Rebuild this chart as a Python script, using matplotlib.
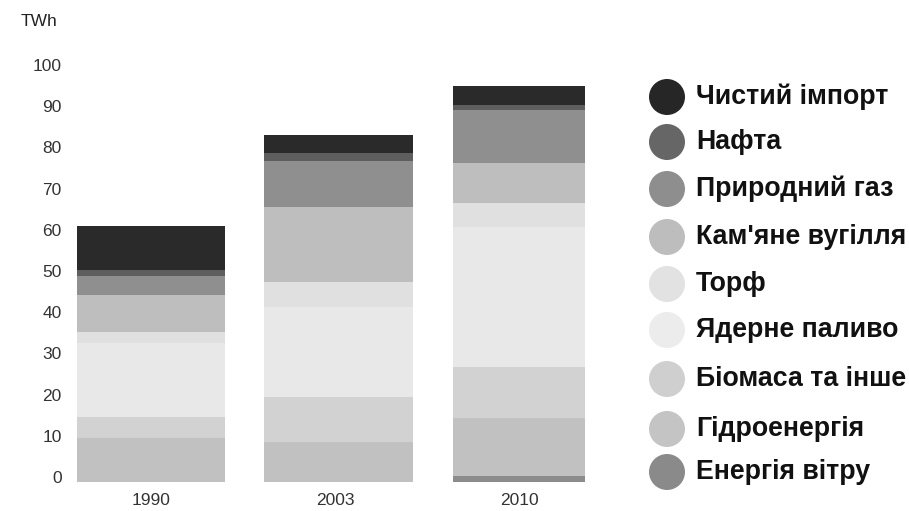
import matplotlib
matplotlib.use("Agg")
import matplotlib.pyplot as plt
import matplotlib.transforms as mtransforms
from matplotlib.patches import Ellipse
import numpy as np

years = ["1990", "2003", "2010"]

# sources, bottom of the stack first
sources = ["Енергія вітру", "Гідроенергія", "Біомаса та інше", "Ядерне паливо",
           "Торф", "Кам'яне вугілля", "Природний газ", "Нафта", "Чистий імпорт"]
wind = [0.0, 0.0, 1.5]
hydro = [10.7, 9.7, 14.0]
biomass = [5.1, 10.9, 12.4]
nuclear = [17.9, 21.9, 34.0]
peat = [2.7, 6.0, 5.8]
coal = [9.0, 18.2, 9.7]
gas = [4.6, 11.2, 12.9]
oil = [1.5, 2.0, 1.2]
net_import = [10.6, 4.3, 4.6]

series = [wind, hydro, biomass, nuclear, peat, coal, gas, oil, net_import]
colors = ["#8c8c8c", "#c1c1c1", "#d2d2d2", "#e8e8e8", "#e0e0e0",
          "#bebebe", "#8f8f8f", "#5e5e5e", "#2a2a2a"]
legend_colors = ["#8a8a8a", "#c4c4c4", "#cfcfcf", "#ececec", "#e2e2e2",
                 "#bdbdbd", "#8e8e8e", "#666666", "#262626"]

W, H = 909, 511
fig = plt.figure(figsize=(W / 100, H / 100), dpi=100)
plt.rcParams["font.family"] = ["Liberation Sans", "DejaVu Sans"]

# axes placed in pixel units: x=0 at px 151, 184 px per bar; y=0 at px 482, 4.12 px per TWh
ax_left, ax_right = 66, 610
ax_bottom, ax_top = 482, 62
ax = fig.add_axes([ax_left / W, 1 - ax_bottom / H,
                   (ax_right - ax_left) / W, (ax_bottom - ax_top) / H])
x = np.arange(len(years))
ax.set_xlim((ax_left - 151) / 184, (ax_right - 151) / 184)
ax.set_ylim(0, (ax_bottom - ax_top) / 4.12)

widths = [0.80, 0.81, 0.72]
bottom = np.zeros(len(years))
for vals, c in zip(series, colors):
    ax.bar(x + np.array([0, 0.02, 0]), vals, width=widths, bottom=bottom,
           color=c, linewidth=0)
    bottom += np.array(vals)

for s in ax.spines.values():
    s.set_visible(False)
ax.set_yticks(np.arange(0, 101, 10))
ax.set_xticks(x)
ax.set_xticklabels(years)
ax.tick_params(axis="both", length=0, colors="#333333", labelsize=12.5)
ax.tick_params(axis="y", pad=3)
ax.tick_params(axis="x", pad=8)
offset = mtransforms.ScaledTranslation(0, 5 / 100, fig.dpi_scale_trans)
for lab in ax.get_yticklabels():
    lab.set_transform(lab.get_transform() + offset)

fig.text(39 / W, 1 - 22 / H, "TWh", fontsize=12.5, color="#222222",
         ha="center", va="center")

# legend drawn by hand: circle + label, top entry is the top of the stack
rows_y = [97, 142, 189, 237, 284, 330, 379, 429, 472]
for i, (name, c) in enumerate(zip(sources[::-1], legend_colors[::-1])):
    y = rows_y[i]
    circ = Ellipse((667 / W, 1 - y / H), 36 / W, 36 / H, transform=fig.transFigure,
                   facecolor=c, edgecolor="none")
    fig.add_artist(circ)
    fig.text(696 / W, 1 - y / H, name, fontsize=19.3,
             weight="bold", color="#111111", ha="left", va="center")

fig.savefig("out.png", dpi=100)
